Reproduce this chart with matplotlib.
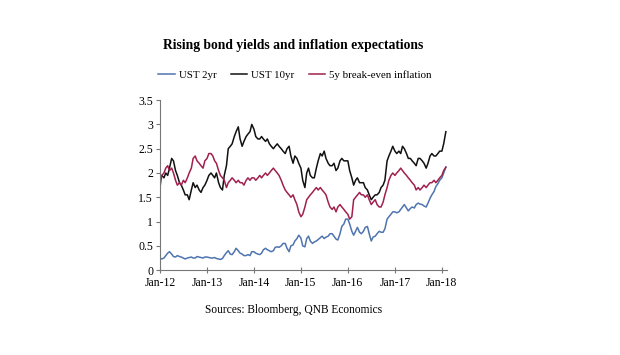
import matplotlib.pyplot as plt
import matplotlib.dates as mdates
import pandas as pd

# semi-monthly readings (1st and 15th), Jan-2012 .. Feb-2018
dates = pd.date_range('2012-01-01', '2018-02-01', freq='SMS')

ust2 = [
    0.25, 0.23, 0.25, 0.30, 0.35, 0.38, 0.33, 0.28, 0.27, 0.30, 0.28, 0.27,
    0.25, 0.23, 0.25, 0.26, 0.27, 0.25, 0.25, 0.28, 0.27, 0.26, 0.25, 0.27,
    0.27, 0.26, 0.25, 0.25, 0.26, 0.24, 0.23, 0.22, 0.24, 0.30, 0.36, 0.40,
    0.33, 0.32, 0.38, 0.45, 0.40, 0.35, 0.33, 0.30, 0.30, 0.32, 0.30, 0.38,
    0.38, 0.35, 0.33, 0.32, 0.35, 0.42, 0.45, 0.42, 0.40, 0.38, 0.40, 0.47,
    0.48, 0.47, 0.50, 0.55, 0.55, 0.45, 0.38, 0.50, 0.52, 0.60, 0.65, 0.72,
    0.66, 0.50, 0.48, 0.65, 0.70, 0.60, 0.55, 0.58, 0.60, 0.63, 0.67, 0.70,
    0.65, 0.68, 0.70, 0.75, 0.75, 0.70, 0.64, 0.62, 0.75, 0.90, 0.95, 1.05,
    1.05, 0.95, 0.80, 0.72, 0.80, 0.88, 0.78, 0.75, 0.80, 0.88, 0.90, 0.75,
    0.60, 0.68, 0.70, 0.75, 0.80, 0.78, 0.78, 0.85, 1.05, 1.10, 1.15, 1.20,
    1.20, 1.18, 1.20, 1.25, 1.30, 1.35, 1.28, 1.22, 1.27, 1.30, 1.28, 1.35,
    1.38, 1.36, 1.35, 1.32, 1.30, 1.38, 1.48, 1.55, 1.62, 1.72, 1.78, 1.85,
    1.90, 2.00, 2.12,
]
ust10 = [
    1.90, 1.95, 1.90, 2.00, 1.95, 2.10, 2.30, 2.25, 2.05, 1.95, 1.80, 1.75,
    1.65, 1.55, 1.55, 1.45, 1.65, 1.80, 1.70, 1.75, 1.65, 1.60, 1.70, 1.75,
    1.85, 1.95, 2.00, 1.95, 1.90, 2.00, 1.80, 1.70, 1.65, 1.95, 2.15, 2.50,
    2.55, 2.60, 2.75, 2.85, 2.95, 2.70, 2.55, 2.65, 2.75, 2.80, 2.85, 3.00,
    2.90, 2.75, 2.70, 2.70, 2.75, 2.70, 2.65, 2.70, 2.60, 2.55, 2.50, 2.55,
    2.60, 2.55, 2.50, 2.45, 2.40, 2.50, 2.55, 2.35, 2.20, 2.35, 2.30, 2.20,
    2.10, 1.85, 1.70, 2.00, 2.10, 1.95, 1.90, 1.90, 2.10, 2.25, 2.40, 2.35,
    2.45, 2.30, 2.20, 2.15, 2.15, 2.20, 2.05, 2.10, 2.25, 2.30, 2.25, 2.25,
    2.25, 2.05, 1.90, 1.75, 1.85, 1.90, 1.80, 1.80, 1.80, 1.70, 1.65, 1.55,
    1.45, 1.50, 1.55, 1.55, 1.60, 1.70, 1.75, 1.85, 2.25, 2.35, 2.45, 2.55,
    2.45, 2.40, 2.45, 2.40, 2.55, 2.50, 2.40, 2.30, 2.30, 2.25, 2.20, 2.15,
    2.30, 2.30, 2.25, 2.20, 2.10, 2.20, 2.35, 2.40, 2.35, 2.35, 2.40, 2.45,
    2.45, 2.60, 2.85,
]
bei5 = [
    1.70, 1.95, 2.00, 2.10, 2.15, 2.05, 2.10, 2.00, 1.85, 1.75, 1.80, 1.75,
    1.85, 1.80, 1.90, 2.00, 2.10, 2.30, 2.35, 2.25, 2.20, 2.15, 2.10, 2.25,
    2.30, 2.40, 2.40, 2.35, 2.25, 2.20, 2.05, 1.95, 1.90, 1.85, 1.70, 1.80,
    1.85, 1.90, 1.85, 1.80, 1.85, 1.80, 1.80, 1.75, 1.85, 1.90, 1.85, 1.90,
    1.90, 1.85, 1.90, 1.95, 1.90, 1.95, 2.00, 1.95, 2.00, 2.05, 2.10, 2.05,
    2.00, 1.95, 1.85, 1.75, 1.65, 1.60, 1.55, 1.50, 1.55, 1.45, 1.35, 1.20,
    1.10, 1.15, 1.30, 1.45, 1.50, 1.55, 1.60, 1.65, 1.70, 1.65, 1.70, 1.65,
    1.60, 1.55, 1.40, 1.30, 1.25, 1.30, 1.20, 1.30, 1.35, 1.30, 1.25, 1.20,
    1.15, 1.05, 1.10, 1.45, 1.50, 1.55, 1.60, 1.55, 1.55, 1.50, 1.55, 1.45,
    1.35, 1.40, 1.45, 1.35, 1.30, 1.30, 1.40, 1.55, 1.70, 1.85, 1.95, 2.00,
    1.95, 2.00, 2.05, 2.10, 2.05, 2.00, 1.95, 1.90, 1.85, 1.80, 1.75, 1.65,
    1.70, 1.65, 1.70, 1.75, 1.70, 1.75, 1.80, 1.80, 1.85, 1.80, 1.85, 1.90,
    1.95, 2.05, 2.12,
]
labels = ['UST 2yr', 'UST 10yr', '5y break-even inflation']
colors = ['#4f74b0', '#111111', '#a0204e']

plt.rcParams['font.family'] = ['Liberation Serif', 'DejaVu Serif']

fig = plt.figure(figsize=(6.2, 3.55), dpi=100)
ax = fig.add_axes([0.258, 0.239, 0.463, 0.479])

for vals, lab, c in zip([ust2, ust10, bei5], labels, colors):
    ax.plot(dates, vals, color=c, lw=1.1, label=lab)

ax.set_xlim(pd.Timestamp('2012-01-01'), pd.Timestamp('2018-02-10'))
ax.set_ylim(0, 3.5)
ax.set_yticks([0, 0.5, 1, 1.5, 2, 2.5, 3, 3.5])
ax.set_yticklabels(['0', '0.5', '1', '1.5', '2', '2.5', '3', '3.5'])
ax.xaxis.set_major_locator(mdates.YearLocator())
ax.xaxis.set_major_formatter(mdates.DateFormatter('Jan-%y'))
ax.tick_params(axis='x', direction='inout', length=4, labelsize=8.5, color='#777777', pad=3)
ax.tick_params(axis='y', direction='out', length=3, labelsize=8.5, color='#777777', pad=2)
for s in ['top', 'right']:
    ax.spines[s].set_visible(False)
for s in ['left', 'bottom']:
    ax.spines[s].set_color('#777777')

fig.text(0.473, 0.873, 'Rising bond yields and inflation expectations',
         ha='center', va='center', fontsize=9.8, fontweight='bold')
fig.legend(loc='center', bbox_to_anchor=(0.476, 0.789), ncol=3, frameon=False,
           fontsize=7.8, handlelength=1.5, columnspacing=1.3, handletextpad=0.4)
fig.text(0.473, 0.127, 'Sources: Bloomberg, QNB Economics',
         ha='center', va='center', fontsize=8.3)

fig.savefig('out.png', dpi=100)
